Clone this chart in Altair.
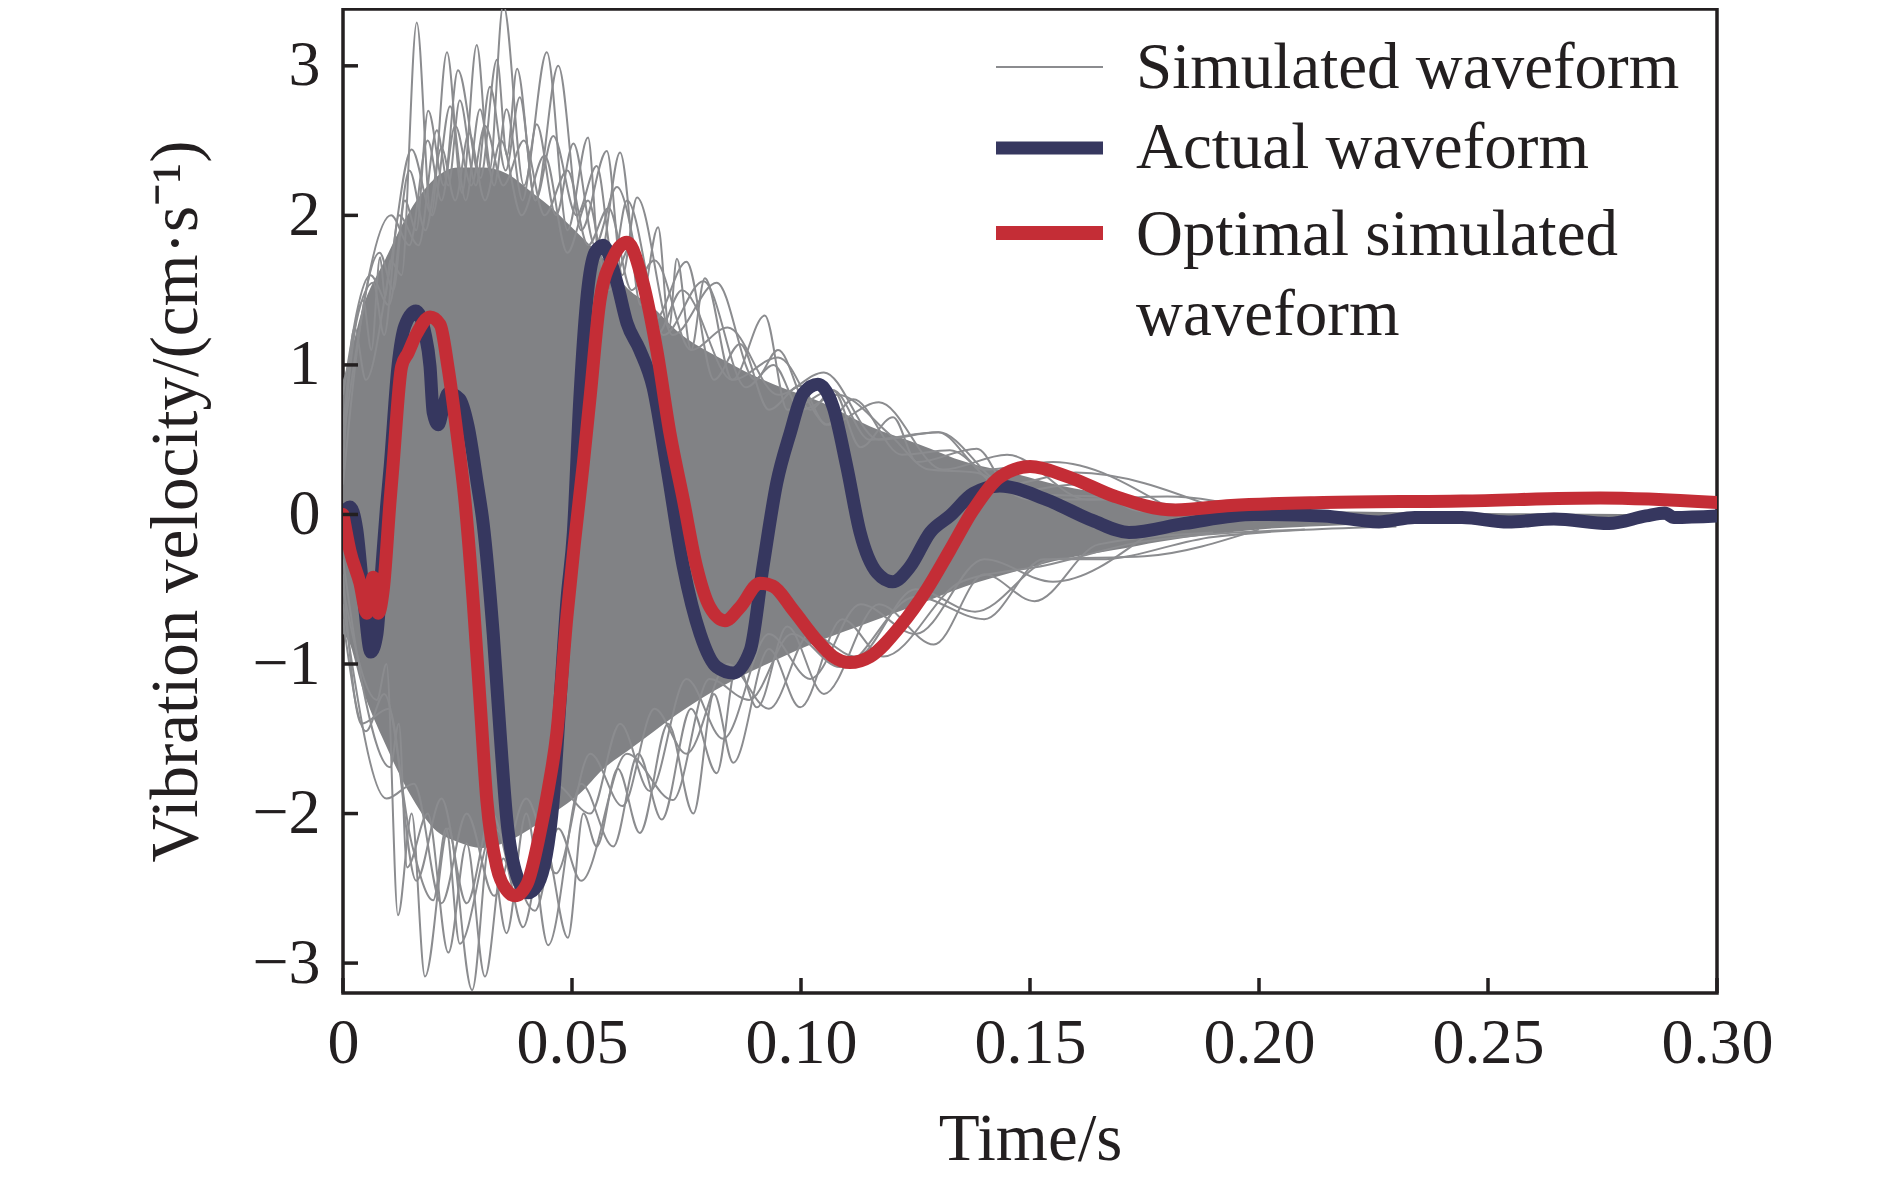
import altair as alt
import pandas as pd

# ---------------- data ----------------
x_ticks = [0, 0.05, 0.10, 0.15, 0.20, 0.25, 0.30]
y_ticks = [-3, -2, -1, 0, 1, 2, 3]

# Actual waveform (navy)
navy_t = [0, 0.0015, 0.003, 0.0045, 0.0061, 0.0074, 0.0085, 0.0095, 0.0103, 0.012,
          0.0135, 0.0159, 0.0179, 0.019, 0.0197, 0.0208, 0.0219, 0.023, 0.0255, 0.0273,
          0.0293, 0.0306, 0.0328, 0.0343, 0.0357, 0.038, 0.0404, 0.0426, 0.0459, 0.0474,
          0.0489, 0.0503, 0.0517, 0.0532, 0.055, 0.0568, 0.0598, 0.062, 0.0648, 0.0677,
          0.0707, 0.0743, 0.078, 0.0816, 0.0852, 0.0889, 0.0917, 0.0947, 0.0976, 0.1005,
          0.1037, 0.107, 0.110, 0.1129, 0.1166, 0.120, 0.1238, 0.1282, 0.1325, 0.1376,
          0.1434, 0.1535, 0.1636, 0.1716, 0.1838, 0.199, 0.214, 0.2262, 0.234, 0.2443,
          0.2544, 0.2644, 0.2764, 0.2845, 0.2886, 0.2906, 0.3]
navy_v = [0, 0.05, -0.1, -0.55, -0.92, -0.8, -0.35, 0.05, 0.32, 0.99,
          1.26, 1.36, 1.21, 0.99, 0.68, 0.6, 0.72, 0.81, 0.77, 0.59,
          0.21, -0.06, -0.8, -1.46, -2.02, -2.42, -2.53, -2.47, -1.91, -1.24,
          -0.57, -0.12, 0.77, 1.43, 1.75, 1.80, 1.55, 1.28, 1.1, 0.85,
          0.32, -0.35, -0.8, -1.02, -1.06, -0.91, -0.35, 0.21, 0.54, 0.81,
          0.87, 0.72, 0.32, -0.12, -0.39, -0.45, -0.35, -0.12, -0.01, 0.14,
          0.19, 0.10, -0.04, -0.12, -0.06, 0.0, -0.01, -0.05, -0.02, -0.02,
          -0.05, -0.03, -0.06, -0.01, 0.01, -0.02, -0.01]

# Optimal simulated waveform (red)
red_t = [0, 0.0015, 0.0037, 0.0052, 0.0066, 0.0077, 0.0088, 0.0103, 0.0109, 0.0128,
         0.0142, 0.0161, 0.019, 0.0212, 0.0229, 0.0249, 0.0266, 0.0284, 0.0299, 0.0314,
         0.0336, 0.0357, 0.0376, 0.0402, 0.043, 0.0448, 0.0467, 0.0489, 0.0505, 0.0525,
         0.054, 0.0561, 0.059, 0.062, 0.0655, 0.0685, 0.0714, 0.0743, 0.0772, 0.0801,
         0.0834, 0.0867, 0.091, 0.0939, 0.0983, 0.1034, 0.107, 0.1107, 0.1151, 0.1216,
         0.1275, 0.1325, 0.1376, 0.1434, 0.150, 0.1585, 0.1686, 0.1817, 0.1939, 0.214,
         0.2443, 0.2745, 0.3]
red_v = [0, -0.24, -0.46, -0.66, -0.42, -0.66, -0.5, 0.1, 0.32, 0.99,
         1.08, 1.21, 1.32, 1.27, 0.99, 0.54, 0.1, -0.57, -1.24, -1.91,
         -2.36, -2.51, -2.55, -2.47, -2.13, -1.84, -1.46, -0.68, -0.2, 0.35,
         0.8, 1.43, 1.72, 1.82, 1.55, 1.1, 0.54, 0.1, -0.35, -0.62,
         -0.71, -0.62, -0.46, -0.48, -0.64, -0.84, -0.95, -0.99, -0.95, -0.75,
         -0.5, -0.24, 0.03, 0.25, 0.32, 0.25, 0.12, 0.03, 0.06, 0.08,
         0.09, 0.11, 0.08]

# Dense core of the simulated waveforms (upper / lower edge)
core_t = [0, 0.0013, 0.004, 0.0093, 0.0146, 0.0198, 0.0251, 0.0304, 0.0357, 0.041,
          0.0463, 0.0516, 0.0569, 0.0622, 0.0675, 0.0728, 0.0833, 0.094, 0.1045, 0.115,
          0.1257, 0.136, 0.147, 0.157, 0.168, 0.1786, 0.2, 0.22, 0.25, 0.3]
core_hi = [0.9, 1.03, 1.35, 1.71, 2.03, 2.24, 2.32, 2.32, 2.28, 2.16,
           2.03, 1.87, 1.71, 1.51, 1.39, 1.23, 1.03, 0.87, 0.75, 0.59,
           0.47, 0.35, 0.27, 0.19, 0.13, 0.08, 0.04, 0.02, 0.01, 0.0]
core_lo = [-0.8, -0.85, -1.14, -1.54, -1.87, -2.1, -2.19, -2.23, -2.19, -2.1,
           -1.99, -1.87, -1.7, -1.58, -1.46, -1.34, -1.14, -0.98, -0.84, -0.72,
           -0.6, -0.48, -0.38, -0.3, -0.24, -0.18, -0.1, -0.07, -0.05, -0.03]

# Outer simulated waveforms (upper fringe)
fu1_t = [0.000, 0.0044, 0.0062, 0.0081, 0.0092, 0.0103, 0.0128, 0.0161, 0.0192, 0.0227,
         0.0260, 0.0292, 0.0320, 0.0350, 0.0395, 0.0445, 0.0490, 0.0535, 0.0560, 0.0605,
         0.0650, 0.0688, 0.0712, 0.0729, 0.0760, 0.0790, 0.0850, 0.0921, 0.0970, 0.1070,
         0.1130, 0.1201, 0.1253, 0.1384, 0.1460, 0.1600, 0.1750, 0.2000]
fu1_v = [0.6, 1.43, 1.10, 1.72, 1.45, 1.70, 1.60, 3.29, 2.00, 3.09,
         2.15, 3.14, 2.30, 3.41, 2.20, 3.09, 1.90, 2.52, 1.70, 2.42,
         1.40, 1.92, 1.25, 1.71, 1.10, 1.58, 0.90, 1.33, 0.70, 0.83,
         0.45, 0.65, 0.35, 0.44, 0.15, 0.20, 0.02, 0.03]
fu2_t = [0.000, 0.0025, 0.0050, 0.0100, 0.0150, 0.0195, 0.0234, 0.0268, 0.0299, 0.0330,
         0.0357, 0.0392, 0.0423, 0.0465, 0.0503, 0.0550, 0.0598, 0.0680, 0.0750, 0.0810,
         0.0867, 0.0930, 0.0998, 0.1055, 0.1114, 0.1220, 0.1325, 0.1450, 0.1650]
fu2_v = [0.3, 1.25, 0.9, 1.6, 2.44, 2.0, 2.73, 2.1, 2.71, 2.2,
         2.71, 2.1, 2.61, 2.0, 2.48, 1.8, 2.19, 1.3, 1.69, 0.9,
         1.14, 0.7, 0.86, 0.6, 0.77, 0.4, 0.43, 0.15, 0.12]
fu3_t = [0.000, 0.0030, 0.0066, 0.0090, 0.0122, 0.0165, 0.0205, 0.0230, 0.0255, 0.0290,
         0.0321, 0.0355, 0.0386, 0.0420, 0.0459, 0.0510, 0.0554, 0.0590, 0.0620, 0.0700,
         0.0787, 0.0880, 0.0940, 0.1000, 0.1080, 0.1192, 0.1280, 0.1380, 0.1500, 0.1700]
fu3_v = [0.5, 1.3, 1.55, 1.2, 2.0, 1.8, 2.57, 2.2, 2.77, 2.2,
         2.86, 2.3, 2.79, 2.1, 2.53, 2.0, 2.33, 1.7, 2.10, 1.2,
         1.56, 0.85, 1.0, 0.7, 0.8, 0.54, 0.3, 0.28, 0.1, 0.1]
fu4_t = [0.000, 0.0035, 0.0080, 0.0110, 0.0135, 0.0160, 0.0186, 0.0220, 0.0251, 0.0300,
         0.0336, 0.0358, 0.0380, 0.0420, 0.0470, 0.0520, 0.0576, 0.0610, 0.0642, 0.0720,
         0.0816, 0.0900, 0.0950, 0.1020, 0.1070, 0.1150, 0.1300, 0.1400, 0.1550, 0.1800]
fu4_v = [0.2, 1.2, 1.75, 1.5, 2.1, 1.9, 2.7, 2.2, 2.97, 2.25,
         3.04, 2.4, 2.98, 2.1, 3.0, 1.9, 2.43, 1.6, 2.12, 1.2,
         1.55, 0.9, 1.1, 0.7, 0.83, 0.5, 0.55, 0.3, 0.35, 0.05]
fu5_t = [0.0, 0.006, 0.010, 0.0145, 0.018, 0.0215, 0.0245, 0.0275, 0.031, 0.0345,
         0.039, 0.044, 0.049, 0.0535, 0.058, 0.063, 0.0685, 0.074, 0.085, 0.095,
         0.106, 0.117, 0.131, 0.145, 0.1625, 0.18, 0.2]
fu5_v = [0.8, 1.6, 1.4, 2.3, 1.9, 2.45, 2.1, 2.55, 2.1, 2.5,
         2.0, 2.4, 1.75, 2.1, 1.5, 1.8, 1.2, 1.5, 0.9, 1.05,
         0.6, 0.75, 0.3, 0.4, 0.1, 0.12, 0.03]
fu6_t = [0.0, 0.0105, 0.0145, 0.0185, 0.0215, 0.0245, 0.028, 0.031, 0.035, 0.0395,
         0.044, 0.049, 0.0535, 0.058, 0.063, 0.068, 0.076, 0.084, 0.095, 0.105,
         0.117, 0.13, 0.145, 0.16, 0.19]
fu6_v = [0.5, 2.0, 1.8, 2.5, 2.1, 2.6, 2.2, 2.6, 2.2, 2.5,
         2.0, 2.3, 1.8, 2.05, 1.5, 1.7, 1.1, 1.25, 0.8, 0.95,
         0.5, 0.55, 0.2, 0.28, 0.05]

# Outer simulated waveforms (lower fringe)
fl1_t = [0.000, 0.0074, 0.0095, 0.0120, 0.0150, 0.0179, 0.0230, 0.0282, 0.0320, 0.0357,
         0.0400, 0.0448, 0.0520, 0.0590, 0.0645, 0.0696, 0.0760, 0.0816, 0.0860, 0.0904,
         0.0970, 0.1050, 0.1170, 0.1290, 0.1400, 0.1510, 0.1650, 0.1900]
fl1_v = [-0.5, -1.24, -1.0, -2.68, -2.0, -3.09, -2.1, -3.18, -2.2, -2.8,
         -2.0, -2.88, -1.8, -2.22, -1.6, -2.04, -1.3, -1.73, -1.0, -1.29,
         -0.75, -1.2, -0.6, -0.87, -0.4, -0.58, -0.2, -0.12]
fl2_t = [0.000, 0.0040, 0.0103, 0.0122, 0.0140, 0.0185, 0.0230, 0.0270, 0.0310, 0.0350,
         0.0393, 0.0440, 0.0491, 0.0525, 0.0554, 0.0600, 0.0648, 0.0710, 0.0765, 0.0810,
         0.0852, 0.0930, 0.0998, 0.1090, 0.1180, 0.1350, 0.1535, 0.1750, 0.2100]
fl2_v = [-0.3, -1.1, -1.69, -1.4, -2.36, -2.0, -2.93, -2.2, -3.09, -2.3,
         -2.76, -2.2, -2.83, -2.0, -2.22, -1.7, -2.13, -1.4, -2.0, -1.2,
         -1.66, -0.9, -1.29, -0.7, -0.95, -0.45, -0.34, -0.18, -0.1]
fl3_t = [0.000, 0.0050, 0.0090, 0.0150, 0.0197, 0.0225, 0.0255, 0.0330, 0.0419, 0.0470,
         0.0520, 0.0620, 0.0720, 0.0800, 0.0887, 0.0980, 0.1085, 0.1250, 0.1400, 0.1530,
         0.1650, 0.1900, 0.2300]
fl3_v = [-0.7, -1.45, -1.2, -2.2, -2.58, -2.1, -2.87, -2.1, -2.65, -2.1,
         -2.45, -1.6, -1.91, -1.1, -1.24, -0.8, -1.02, -0.55, -0.7, -0.3,
         -0.3, -0.15, -0.08]
fl4_t = [0.0, 0.004, 0.010, 0.016, 0.0215, 0.027, 0.0325, 0.038, 0.046, 0.054,
         0.0605, 0.067, 0.075, 0.083, 0.093, 0.102, 0.113, 0.125, 0.14, 0.155, 0.175]
fl4_v = [-0.4, -1.4, -1.3, -2.45, -1.9, -2.6, -2.0, -2.5, -1.8, -2.0,
         -1.4, -1.85, -1.1, -1.5, -0.8, -1.1, -0.6, -0.8, -0.3, -0.45, -0.15]
fl5_t = [0.0, 0.0095, 0.0155, 0.0215, 0.027, 0.033, 0.040, 0.0465, 0.054, 0.061,
         0.068, 0.075, 0.084, 0.093, 0.102, 0.112, 0.125, 0.138, 0.155, 0.175, 0.2]
fl5_v = [-0.6, -1.9, -1.8, -2.6, -2.0, -2.55, -1.9, -2.4, -1.6, -1.95,
         -1.3, -1.6, -1.0, -1.3, -0.8, -0.95, -0.5, -0.65, -0.3, -0.28, -0.1]

legend_lines = ["Simulated waveform", "Actual waveform", "Optimal simulated", "waveform"]

# ---------------- styling ----------------
W, H = 1374, 984
INK = "#231f20"
NAVY = "#36375f"
RED = "#c42d36"
GRAY_CORE = "#818285"
GRAY_LINE = "#8b8c8f"
FONT = "Liberation Serif"

xscale = alt.Scale(domain=[0, 0.3], nice=False, zero=False)
yscale = alt.Scale(domain=[-3.2, 3.38], nice=False, zero=False)

x_axis = alt.Axis(values=x_ticks,
                  labelExpr="datum.value == 0 ? '0' : format(datum.value, '.2f')",
                  title="Time/s", labelPadding=18, labelFlush=False,
                  titleX=W / 2, titleY=166, titleBaseline="alphabetic",
                  titleAlign="center")
y_axis = alt.Axis(values=y_ticks, format="d",
                  title="Vibration velocity/(cm·s⁻¹)", labelPadding=23,
                  titleX=-147, titleY=H / 2, titleAngle=270,
                  titleBaseline="alphabetic", titleAlign="center")


def X(field):
    return alt.X(field, scale=xscale, axis=x_axis)


def Y(field):
    return alt.Y(field, scale=yscale, axis=y_axis)


# ---------------- layers ----------------
core_df = pd.DataFrame({"t": core_t, "hi": core_hi, "lo": core_lo})
core = alt.Chart(core_df).mark_area(color=GRAY_CORE, interpolate="monotone", clip=True).encode(
    x=X("t:Q"), y=Y("hi:Q"), y2="lo:Q")

fringe_sets = [("u1", fu1_t, fu1_v), ("u2", fu2_t, fu2_v), ("u3", fu3_t, fu3_v),
               ("u4", fu4_t, fu4_v), ("u5", fu5_t, fu5_v), ("u6", fu6_t, fu6_v),
               ("l1", fl1_t, fl1_v), ("l2", fl2_t, fl2_v), ("l3", fl3_t, fl3_v),
               ("l4", fl4_t, fl4_v), ("l5", fl5_t, fl5_v)]
rows = []
for name, ts, vs in fringe_sets:
    for i, (a, b) in enumerate(zip(ts, vs)):
        rows.append({"trace": name, "t": a, "v": b, "o": i})
fringe_df = pd.DataFrame(rows)
fringe = alt.Chart(fringe_df).mark_line(color=GRAY_LINE, strokeWidth=2,
                                        interpolate="monotone", clip=True).encode(
    x=X("t:Q"), y=Y("v:Q"), detail="trace:N", order="o:Q")

navy_df = pd.DataFrame({"t": navy_t, "v": navy_v})
navy = alt.Chart(navy_df).mark_line(color=NAVY, strokeWidth=13, interpolate="monotone",
                                    strokeCap="round", strokeJoin="round", clip=True).encode(
    x=X("t:Q"), y=Y("v:Q"))

red_df = pd.DataFrame({"t": red_t, "v": red_v})
red = alt.Chart(red_df).mark_line(color=RED, strokeWidth=13, interpolate="monotone",
                                  strokeCap="round", strokeJoin="round", clip=True).encode(
    x=X("t:Q"), y=Y("v:Q"))

# inward ticks
ytk = alt.Chart(pd.DataFrame({"t": y_ticks})).mark_rule(color=INK, strokeWidth=3.5).encode(
    y=Y("t:Q"), x=alt.value(0), x2=alt.value(15))
xtk = alt.Chart(pd.DataFrame({"t": x_ticks})).mark_rule(color=INK, strokeWidth=3.5).encode(
    x=X("t:Q"), y=alt.value(H), y2=alt.value(H - 15))

# legend
leg_layers = []
sym = [(GRAY_LINE, 2, 58), (NAVY, 13, 139), (RED, 14, 224)]
for i, (col, sw, yy) in enumerate(sym):
    leg_layers.append(
        alt.Chart(pd.DataFrame({"k": [i]})).mark_rule(color=col, strokeWidth=sw).encode(
            x=alt.value(653), x2=alt.value(760), y=alt.value(yy)))
for lab, yb in zip(legend_lines, [79, 159, 246, 326]):
    leg_layers.append(
        alt.Chart(pd.DataFrame({"label": [lab]})).mark_text(
            font=FONT, fontSize=65, color=INK, align="left", baseline="alphabetic").encode(
            x=alt.value(793), y=alt.value(yb), text="label:N"))

chart = alt.layer(core, fringe, navy, red, ytk, xtk, *leg_layers).properties(
    width=W, height=H,
    padding={"left": 335, "top": 1, "right": 165, "bottom": 181},
    autosize=alt.AutoSizeParams(type="none"),
).configure_view(stroke=INK, strokeWidth=3.5).configure_axis(
    domain=False, ticks=False, grid=False,
    labelFont=FONT, labelFontSize=64, labelColor=INK, labelOverlap=False,
    titleFont=FONT, titleFontSize=67, titleColor=INK, titleFontWeight="normal",
)

chart.save("out.html", embed_options={"renderer": "svg", "actions": False})
